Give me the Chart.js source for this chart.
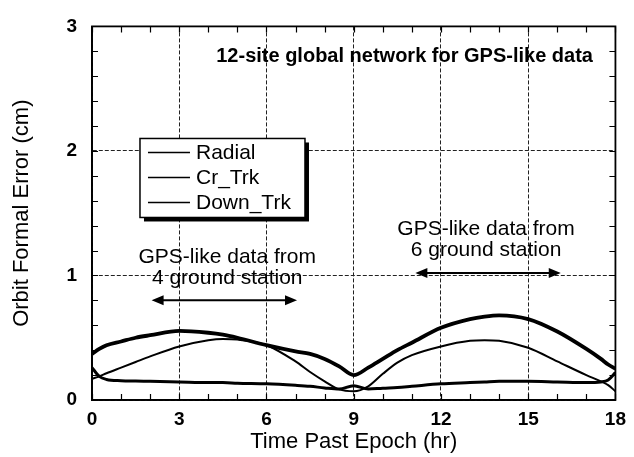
<!DOCTYPE html>
<html>
<head>
<meta charset="utf-8">
<script src="https://cdn.jsdelivr.net/npm/chart.js@4.4.0/dist/chart.umd.min.js"></script>
<style>
  html, body { margin: 0; padding: 0; background: #fff; }
  #wrap { width: 634px; height: 457px; }
</style>
</head>
<body>
<div id="wrap"><canvas id="c" width="634" height="457"></canvas></div>
<script>
// Orbit formal error vs time past epoch
var hours   = [0, 0.25, 0.5, 1, 1.5, 2, 3, 4, 4.5, 5, 6, 7, 7.5, 8, 8.5, 9, 9.5, 10, 10.5, 11, 12, 13, 13.5, 14, 15, 16, 17, 17.5, 17.75, 18]
var radial  = [0.26, 0.19, 0.165, 0.155, 0.152, 0.15, 0.145, 0.14, 0.14, 0.135, 0.13, 0.118, 0.11, 0.097, 0.088, 0.115, 0.088, 0.095, 0.1, 0.11, 0.13, 0.14, 0.145, 0.15, 0.15, 0.145, 0.14, 0.145, 0.16, 0.22]
var crTrk   = [0.17, 0.19, 0.215, 0.26, 0.305, 0.35, 0.43, 0.48, 0.49, 0.485, 0.44, 0.31, 0.225, 0.15, 0.085, 0.07, 0.11, 0.21, 0.3, 0.36, 0.43, 0.475, 0.48, 0.475, 0.42, 0.31, 0.2, 0.15, 0.12, 0.07]
var downTrk = [0.37, 0.41, 0.44, 0.47, 0.5, 0.52, 0.555, 0.54, 0.525, 0.5, 0.44, 0.39, 0.37, 0.33, 0.27, 0.2, 0.26, 0.33, 0.4, 0.46, 0.58, 0.65, 0.67, 0.68, 0.65, 0.55, 0.41, 0.33, 0.285, 0.25]

var seriesNames = ["Radial", "Cr_Trk", "Down_Trk"]
var xTicks = [0, 3, 6, 9, 12, 15, 18]
var yTicks = [0, 1, 2, 3]

var titleText = "12-site global network for GPS-like data"
var notes = [
  { lines: ["GPS-like data from", "4 ground station"], x: 4.65, y: 1.15, from: 2.05, to: 7.05, arrowY: 0.8 },
  { lines: ["GPS-like data from", "6 ground station"], x: 13.55, y: 1.37, from: 11.12, to: 16.12, arrowY: 1.02 },
]

var FONT = "'Liberation Sans', Arial, Helvetica, sans-serif"

function pairs(vals) {
  return hours.map(function(h, i) { return { x: h, y: vals[i] } })
}

// minor ticks, the closed frame, the text notes and the boxed legend
var decorations = {
  id: "decorations",
  afterDatasetsDraw: function(chart) {
    var ctx = chart.ctx
    var a = chart.chartArea
    var xs = chart.scales.x
    var ys = chart.scales.y
    ctx.save()
    ctx.strokeStyle = "#000"
    ctx.lineWidth = 1.2
    ctx.beginPath()
    for (var h = 0; h <= 18; h += 1) {
      var px = Math.round(xs.getPixelForValue(h)) + 0.5
      ctx.moveTo(px, a.bottom); ctx.lineTo(px, a.bottom - 6)
      ctx.moveTo(px, a.top); ctx.lineTo(px, a.top + 6)
    }
    for (var k = 0; k <= 15; k++) {
      var py = Math.round(ys.getPixelForValue(k * 0.2)) + 0.5
      ctx.moveTo(a.left, py); ctx.lineTo(a.left + 6, py)
      ctx.moveTo(a.right, py); ctx.lineTo(a.right - 6, py)
    }
    ctx.stroke()
    ctx.lineWidth = 1.8
    ctx.strokeRect(a.left, a.top, a.right - a.left, a.bottom - a.top)

    // title inside the plot
    ctx.fillStyle = "#000"
    ctx.textAlign = "center"
    ctx.textBaseline = "middle"
    ctx.font = "bold 20px " + FONT
    ctx.fillText(titleText, xs.getPixelForValue(10.75), ys.getPixelForValue(2.76))

    // notes with double arrows
    ctx.font = "21px " + FONT
    notes.forEach(function(n) {
      var cx = xs.getPixelForValue(n.x)
      var cy = ys.getPixelForValue(n.y)
      n.lines.forEach(function(line, i) { ctx.fillText(line, cx, cy + i * 21) })
      var x1 = xs.getPixelForValue(n.from)
      var x2 = xs.getPixelForValue(n.to)
      var ay = ys.getPixelForValue(n.arrowY)
      ctx.lineWidth = 2
      ctx.beginPath()
      ctx.moveTo(x1 + 8, ay); ctx.lineTo(x2 - 8, ay)
      ctx.stroke()
      ctx.beginPath()
      ctx.moveTo(x1, ay); ctx.lineTo(x1 + 12, ay - 5); ctx.lineTo(x1 + 12, ay + 5); ctx.closePath()
      ctx.moveTo(x2, ay); ctx.lineTo(x2 - 12, ay - 5); ctx.lineTo(x2 - 12, ay + 5); ctx.closePath()
      ctx.fill()
    })

    // legend box with drop shadow
    var lx = xs.getPixelForValue(1.65)
    var ly = ys.getPixelForValue(2.1)
    var lw = 165, lh = 79
    ctx.fillRect(lx + 4, ly + 4, lw, lh)
    ctx.fillStyle = "#fff"
    ctx.fillRect(lx, ly, lw, lh)
    ctx.lineWidth = 1.5
    ctx.strokeRect(lx, ly, lw, lh)
    ctx.textAlign = "left"
    ctx.fillStyle = "#000"
    ctx.font = "21px " + FONT
    chart.data.datasets.forEach(function(ds, i) {
      var ry = ly + 14 + i * 25
      ctx.lineWidth = 1.6
      ctx.beginPath()
      ctx.moveTo(lx + 8, ry); ctx.lineTo(lx + 50, ry)
      ctx.stroke()
      ctx.fillText(ds.label, lx + 56, ry + 1)
    })
    ctx.restore()
  },
}

new Chart(document.getElementById("c"), {
  type: "line",
  data: {
    datasets: [
      { label: seriesNames[0], data: pairs(radial), borderColor: "#000", borderWidth: 3 },
      { label: seriesNames[1], data: pairs(crTrk), borderColor: "#000", borderWidth: 2 },
      { label: seriesNames[2], data: pairs(downTrk), borderColor: "#000", borderWidth: 3.8 },
    ],
  },
  options: {
    responsive: false,
    animation: false,
    elements: {
      point: { radius: 0 },
      line: { cubicInterpolationMode: "monotone", fill: false },
    },
    layout: { padding: { left: 0, right: 16, top: 17, bottom: 0 } },
    plugins: { legend: { display: false }, tooltip: { enabled: false } },
    scales: {
      x: {
        type: "linear",
        min: 0,
        max: 18,
        afterBuildTicks: function(s) { s.ticks = xTicks.map(function(v) { return { value: v } }) },
        afterFit: function(s) { s.height = 57 },
        ticks: { color: "#000", padding: 8, font: { family: FONT, size: 19, weight: "bold" } },
        grid: { color: "#222", lineWidth: 1, drawTicks: false },
        border: { display: true, color: "#000", width: 1.8, dash: [4, 2] },
        title: { display: true, text: "Time Past Epoch (hr)", color: "#000", padding: { top: 4, bottom: 2 }, font: { family: FONT, size: 22 } },
      },
      y: {
        min: 0,
        max: 3,
        afterBuildTicks: function(s) { s.ticks = yTicks.map(function(v) { return { value: v } }) },
        afterFit: function(s) { s.width = 92 },
        ticks: { color: "#000", padding: 15, font: { family: FONT, size: 19, weight: "bold" } },
        grid: { color: "#222", lineWidth: 1, drawTicks: false },
        border: { display: true, color: "#000", width: 1.8, dash: [4, 2] },
        title: { display: true, text: "Orbit Formal Error (cm)", color: "#000", padding: { top: 9, bottom: 0 }, font: { family: FONT, size: 22 } },
      },
    },
  },
  plugins: [decorations],
})
</script>
</body>
</html>
